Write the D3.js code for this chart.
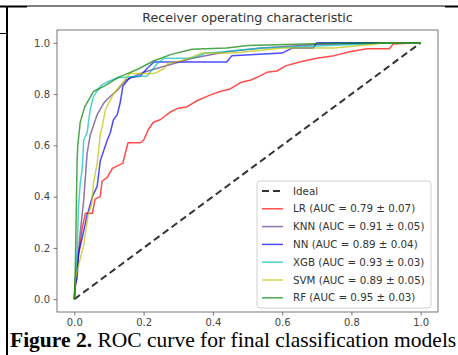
<!DOCTYPE html>
<html>
<head>
<meta charset="utf-8">
<script src="https://cdn.jsdelivr.net/npm/d3@7"></script>
<style>
  body { margin: 0; background: #fff; }
  svg { display: block; }
</style>
</head>
<body>
<div id="roc"></div>
<script>
// values
const ticks = [0, 0.2, 0.4, 0.6, 0.8, 1.0];
const models = ["LR", "KNN", "NN", "XGB", "SVM", "RF"];
const aucs = ["0.79 ± 0.07", "0.91 ± 0.05", "0.89 ± 0.04", "0.93 ± 0.03", "0.89 ± 0.05", "0.95 ± 0.03"];
const colors = ["#ff0000", "#5e3a86", "#0000ff", "#00bfbf", "#bfbf00", "#008000"];

const lrFpr = [0, 0.005, 0.012, 0.023, 0.032, 0.052, 0.06, 0.075, 0.08, 0.095, 0.11, 0.124, 0.14, 0.155, 0.19, 0.2, 0.213, 0.228, 0.248, 0.277, 0.3, 0.325, 0.355, 0.39, 0.42, 0.45, 0.48, 0.51, 0.535, 0.556, 0.585, 0.61, 0.65, 0.7, 0.75, 0.795, 0.845, 0.91, 0.92, 0.95, 1.0];
const lrTpr = [0, 0.08, 0.165, 0.28, 0.335, 0.335, 0.39, 0.4, 0.46, 0.475, 0.51, 0.52, 0.53, 0.61, 0.61, 0.62, 0.66, 0.69, 0.7, 0.73, 0.745, 0.75, 0.775, 0.795, 0.81, 0.82, 0.845, 0.855, 0.87, 0.885, 0.89, 0.91, 0.925, 0.94, 0.95, 0.965, 0.977, 0.977, 0.995, 0.997, 1.0];
const knnFpr = [0, 0.008, 0.017, 0.027, 0.037, 0.046, 0.066, 0.085, 0.095, 0.124, 0.15, 0.2, 0.25, 0.34, 0.44, 0.54, 0.7, 0.94, 1.0];
const knnTpr = [0, 0.125, 0.26, 0.385, 0.57, 0.64, 0.72, 0.765, 0.78, 0.815, 0.855, 0.885, 0.905, 0.94, 0.965, 0.98, 0.993, 1.0, 1.0];
const nnFpr = [0, 0.003, 0.008, 0.012, 0.023, 0.037, 0.04, 0.052, 0.066, 0.075, 0.095, 0.104, 0.113, 0.124, 0.133, 0.14, 0.16, 0.19, 0.21, 0.23, 0.44, 0.455, 0.6, 0.63, 0.69, 0.7, 1.0];
const nnTpr = [0, 0.06, 0.08, 0.18, 0.24, 0.33, 0.34, 0.4, 0.44, 0.54, 0.62, 0.65, 0.7, 0.72, 0.77, 0.83, 0.865, 0.87, 0.9, 0.925, 0.925, 0.95, 0.96, 0.98, 0.98, 1.0, 1.0];
const xgbFpr = [0, 0.008, 0.012, 0.017, 0.023, 0.027, 0.037, 0.046, 0.055, 0.075, 0.085, 0.1, 0.127, 0.14, 0.18, 0.21, 0.24, 0.26, 0.34, 0.38, 0.43, 0.54, 0.65, 0.89, 1.0];
const xgbTpr = [0, 0.18, 0.36, 0.45, 0.51, 0.62, 0.65, 0.74, 0.79, 0.83, 0.84, 0.85, 0.865, 0.865, 0.87, 0.87, 0.92, 0.94, 0.94, 0.96, 0.965, 0.98, 0.985, 0.998, 1.0];
const svmFpr = [0, 0.003, 0.01, 0.027, 0.04, 0.05, 0.055, 0.066, 0.075, 0.08, 0.09, 0.113, 0.14, 0.16, 0.23, 0.26, 0.27, 0.31, 0.34, 0.37, 0.46, 0.6, 0.75, 0.86, 0.89, 1.0];
const svmTpr = [0, 0.08, 0.12, 0.21, 0.33, 0.37, 0.45, 0.53, 0.645, 0.67, 0.74, 0.8, 0.845, 0.88, 0.88, 0.9, 0.92, 0.93, 0.945, 0.96, 0.96, 0.98, 0.98, 0.993, 1.0, 1.0];
const rfFpr = [0, 0.003, 0.008, 0.01, 0.017, 0.03, 0.055, 0.085, 0.127, 0.18, 0.23, 0.28, 0.34, 0.44, 0.5, 0.75, 1.0];
const rfTpr = [0, 0.13, 0.54, 0.6, 0.69, 0.75, 0.81, 0.83, 0.865, 0.895, 0.93, 0.955, 0.975, 0.98, 0.99, 0.998, 1.0];

const fprs = [lrFpr, knnFpr, nnFpr, xgbFpr, svmFpr, rfFpr];
const tprs = [lrTpr, knnTpr, nnTpr, xgbTpr, svmTpr, rfTpr];

const width = 458, height = 355;
const mLeft = 57, mRight = 438, mTop = 30, mBottom = 312;

const svg = d3.select("#roc").append("svg")
  .attr("width", width)
  .attr("height", height);

// page table lines round the figure
const page = svg.append("g").attr("stroke", "#000");
page.append("line").attr("x1", 7).attr("x2", 7).attr("y1", 6).attr("y2", height).attr("stroke-width", 2);
page.append("line").attr("x1", 0).attr("x2", 27).attr("y1", 6.5).attr("y2", 6.5).attr("stroke-width", 2);
page.append("line").attr("x1", 27).attr("x2", 445).attr("y1", 6).attr("y2", 6).attr("stroke-width", 1);
page.append("line").attr("x1", 445).attr("x2", width).attr("y1", 6.5).attr("y2", 6.5).attr("stroke-width", 2);
page.append("line").attr("x1", 0).attr("x2", 7).attr("y1", 33.5).attr("y2", 33.5).attr("stroke-width", 1);

const x = d3.scaleLinear().domain([-0.05, 1.05]).range([mLeft, mRight]);
const y = d3.scaleLinear().domain([-0.05, 1.05]).range([mBottom, mTop]);

svg.append("text")
  .attr("x", (mLeft + mRight) / 2)
  .attr("y", 22)
  .attr("text-anchor", "middle")
  .attr("font-family", "DejaVu Sans")
  .attr("font-size", 12.7)
  .attr("fill", "#333")
  .text("Receiver operating characteristic");

const fmt = d3.format(".1f");
const xAxis = svg.append("g")
  .attr("transform", `translate(0,${mBottom})`)
  .call(d3.axisBottom(x).tickValues(ticks).tickFormat(fmt).tickSize(3.5).tickPadding(3.5));
const yAxis = svg.append("g")
  .attr("transform", `translate(${mLeft},0)`)
  .call(d3.axisLeft(y).tickValues(ticks).tickFormat(fmt).tickSize(3.5).tickPadding(3.5));
[xAxis, yAxis].forEach(a => {
  a.select(".domain").remove();
  a.selectAll("line").attr("stroke", "#555").attr("stroke-width", 0.8);
  a.selectAll("text").attr("font-family", "DejaVu Sans").attr("font-size", 10).attr("fill", "#444");
});

const plot = svg.append("g");

const line = d3.line().x(d => x(d[0])).y(d => y(d[1]));

plot.append("path")
  .attr("d", line([[0, 0], [1, 1]]))
  .attr("fill", "none")
  .attr("stroke", "#333")
  .attr("stroke-width", 2)
  .attr("stroke-dasharray", "7,4");

plot.selectAll(".curve")
  .data(models)
  .join("path")
  .attr("class", "curve")
  .attr("fill", "none")
  .attr("stroke", (d, i) => colors[i])
  .attr("stroke-opacity", 0.7)
  .attr("stroke-width", 1.5)
  .attr("stroke-linejoin", "round")
  .attr("d", (d, i) => line(d3.zip(fprs[i], tprs[i])));

svg.append("rect")
  .attr("x", mLeft).attr("y", mTop)
  .attr("width", mRight - mLeft).attr("height", mBottom - mTop)
  .attr("fill", "none")
  .attr("stroke", "#555")
  .attr("stroke-width", 0.8);

// legend
const legend = svg.append("g").attr("transform", "translate(257,181)");
legend.append("rect")
  .attr("width", 174).attr("height", 127)
  .attr("rx", 3)
  .attr("fill", "#fff").attr("fill-opacity", 0.8)
  .attr("stroke", "#d0d0d0");

const labels = ["Ideal"].concat(models.map((m, i) => `${m} (AUC = ${aucs[i]})`));
const rows = legend.selectAll(".row")
  .data(labels)
  .join("g")
  .attr("class", "row")
  .attr("transform", (d, i) => `translate(0,${10 + i * 17.8})`);
rows.append("line")
  .attr("x1", 5).attr("x2", 26)
  .attr("stroke", (d, i) => i === 0 ? "#333" : colors[i - 1])
  .attr("stroke-opacity", (d, i) => i === 0 ? 1 : 0.7)
  .attr("stroke-width", (d, i) => i === 0 ? 2 : 1.5)
  .attr("stroke-dasharray", (d, i) => i === 0 ? "7,4" : null);
rows.append("text")
  .attr("x", 36)
  .attr("dy", "0.35em")
  .attr("font-family", "DejaVu Sans")
  .attr("font-size", 10.3)
  .attr("fill", "#333")
  .text(d => d);

// caption
const cap = svg.append("text")
  .attr("x", 10)
  .attr("y", 347)
  .attr("font-family", "Liberation Serif")
  .attr("font-size", 21.5)
  .attr("fill", "#000");
cap.append("tspan").attr("font-weight", "bold").text("Figure 2.");
cap.append("tspan").text(" ROC curve for final classification models");
</script>
</body>
</html>
